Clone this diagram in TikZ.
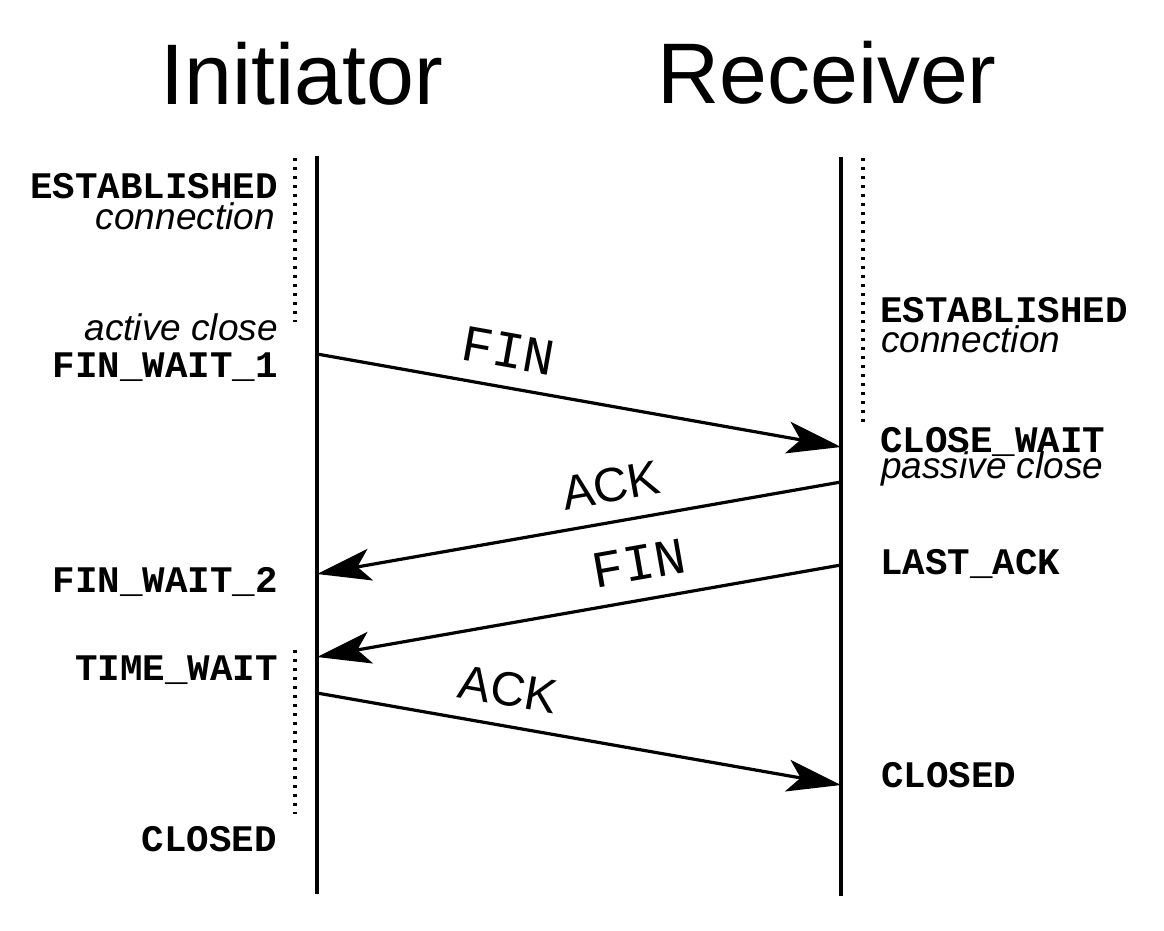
\documentclass[tikz,border=0pt]{standalone}
\usepackage{fontspec}
\setmainfont{Liberation Sans}
\newfontfamily\monof{Liberation Mono}
\usetikzlibrary{arrows.meta}
\begin{document}
\begin{tikzpicture}[x=1pt,y=-1pt,
  lifeline/.style={line width=3.3pt},
  msg/.style={line width=3.2pt,-{Stealth[length=54pt,width=32pt,inset=13pt]}},
  dotline/.style={line width=3.4pt,dash pattern=on 3.4pt off 5.6pt},
  stateL/.style={anchor=base east,inner sep=0pt,font=\monof\bfseries\fontsize{37.5}{40}\selectfont},
  stateR/.style={anchor=base west,inner sep=0pt,font=\monof\bfseries\fontsize{37.5}{40}\selectfont},
  noteL/.style={anchor=base east,inner sep=0pt,font=\itshape\fontsize{37}{40}\selectfont},
  noteR/.style={anchor=base west,inner sep=0pt,font=\itshape\fontsize{37}{40}\selectfont},
  title/.style={anchor=base,inner sep=0pt,font=\fontsize{86}{90}\selectfont},
  finlab/.style={sloped,above=18pt,inner sep=0pt,font=\monof\fontsize{52}{56}\selectfont},
  acklab/.style={sloped,above=18pt,inner sep=0pt,font=\fontsize{48}{52}\selectfont}
]
\fill[white] (0,0) rectangle (1164,931);
\useasboundingbox (0,0) rectangle (1164,931);

% titles
\node[title] (tI) at (302,105) {Initiator};
\node[title] (tR) at (827,104) {Receiver};

% lifelines
\coordinate (Itop) at (317,156);
\coordinate (Ibot) at (317,894);
\coordinate (Rtop) at (841,157);
\coordinate (Rbot) at (841,896);
\draw[lifeline] (Itop) -- (Ibot);
\draw[lifeline] (Rtop) -- (Rbot);

% dotted state spans
\coordinate (d1a) at (295,158);
\coordinate (d1b) at (295,322);
\coordinate (d2a) at (295,650);
\coordinate (d2b) at (295,814);
\coordinate (d3a) at (863,158);
\coordinate (d3b) at (863,424);
\draw[dotline] (d1a) -- (d1b);
\draw[dotline] (d2a) -- (d2b);
\draw[dotline] (d3a) -- (d3b);

% left states
\node[stateL] (lEst) at (278,198) {ESTABLISHED};
\node[noteL] (lCon) at (275,229) {connection};
\node[noteL] (lAct) at (278,340) {active close};
\node[stateL] (lFW1) at (278,377) {FIN\_WAIT\_1};
\node[stateL] (lFW2) at (278,592) {FIN\_WAIT\_2};
\node[stateL] (lTW) at (278,680) {TIME\_WAIT};
\node[stateL] (lCl) at (277,851) {CLOSED};

% right states
\node[stateR] (rEst) at (880,322) {ESTABLISHED};
\node[noteR] (rCon) at (881,352) {connection};
\node[stateR] (rCW) at (880,452) {CLOSE\_WAIT};
\node[noteR] (rPas) at (881,478) {passive close};
\node[stateR] (rLA) at (880,574) {LAST\_ACK};
\node[stateR] (rCl) at (881,787) {CLOSED};

% message end points
\coordinate (m1s) at (317,354);
\coordinate (m1e) at (841,447);
\coordinate (m2s) at (841,482);
\coordinate (m2e) at (317,574);
\coordinate (m3s) at (841,565);
\coordinate (m3e) at (317,657);
\coordinate (m4s) at (317,693);
\coordinate (m4e) at (841,785);

\draw[msg] (m1s) -- node[finlab,pos=0.353] (l1) {FIN} (m1e);
\draw[msg] (m2s) -- node[acklab,pos=0.427] (l2) {ACK} (m2e);
\draw[msg] (m3s) -- node[finlab,pos=0.374] (l3) {FIN} (m3e);
\draw[msg] (m4s) -- node[acklab,pos=0.353] (l4) {ACK} (m4e);
\end{tikzpicture}
\end{document}
